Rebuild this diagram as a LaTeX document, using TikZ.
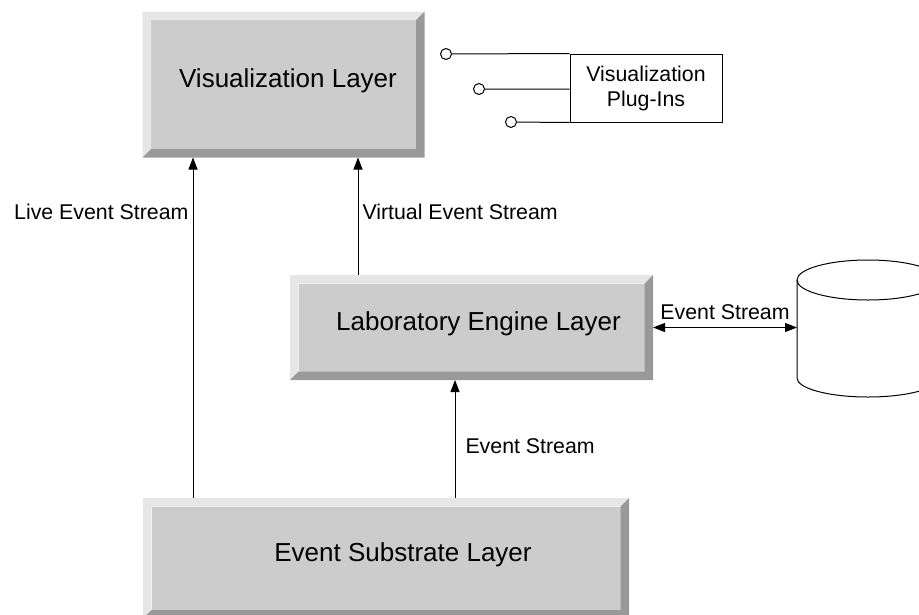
\documentclass[tikz,border=0pt]{standalone}
\usepackage{fontspec}
\setmainfont{Liberation Sans}
\usetikzlibrary{arrows.meta,calc}
\definecolor{facegray}{HTML}{CCCCCC}
\definecolor{litegray}{HTML}{E6E6E6}
\definecolor{shadegray}{HTML}{999999}
\newcommand{\px}{0.75pt}
\tikzstyle{every node}=[font=\fontsize{16}{18.75}\selectfont]
\tikzstyle{layer}=[rectangle,fill=facegray,inner sep=0pt,outer sep=8.5*\px]
\tikzstyle{layertext}=[font=\fontsize{19.5}{23}\selectfont,inner sep=0pt,text height=0.72em,text depth=0.21em]
\tikzstyle{flow}=[-{Triangle[length=9pt,width=6.75pt]}]
\tikzstyle{twoway}=[{Triangle[length=9pt,width=6.75pt]}-{Triangle[length=9pt,width=6.75pt]}]
\tikzstyle{streamlabel}=[inner sep=0pt]
\tikzstyle{port}=[circle,draw,fill=white,inner sep=0pt,minimum size=11*\px]
% bevel ring round a layer node (light top/left, dark bottom/right)
\newcommand{\bevel}[1]{%
  \fill[litegray] (#1.south west) -- (#1.north west) -- (#1.north east)
    -- ($(#1.north east)+(-8.5,8.5)$) -- ($(#1.north west)+(8.5,8.5)$)
    -- ($(#1.south west)+(8.5,-8.5)$) -- cycle;
  \fill[shadegray] (#1.south west) -- (#1.south east) -- (#1.north east)
    -- ($(#1.north east)+(-8.5,8.5)$) -- ($(#1.south east)+(-8.5,-8.5)$)
    -- ($(#1.south west)+(8.5,-8.5)$) -- cycle;}

\begin{document}
\begin{tikzpicture}[x=0.75pt,y=-0.75pt,line width=0.75pt]
    \useasboundingbox (0,0) rectangle (919,614);
    \clip (0,0) rectangle (919,614);

    % Layers
    \node[layer,minimum width=265*\px,minimum height=129*\px] (vis) at (283.5,84.5) {};
    \node[layer,minimum width=346*\px,minimum height=88*\px] (lab) at (471.5,327.5) {};
    \node[layer,minimum width=469*\px,minimum height=103.5*\px] (sub) at (386,558.25) {};
    \bevel{vis}
    \bevel{lab}
    \bevel{sub}
    \node[layertext] (vistext) at ($(vis.center)+(4.5,0)$) {Visualization Layer};
    \node[layertext] (labtext) at ($(lab.center)+(7,0)$) {Laboratory Engine Layer};
    \node[layertext] (subtext) at ($(sub.center)+(17,0)$) {Event Substrate Layer};

    % Plug-ins
    \node[draw,minimum width=152*\px,minimum height=68*\px,align=center] (plugins) at (646,88)
        {Visualization\\Plug-Ins};
    \foreach \name/\cx/\cy in {c1/446/54,c2/479/89,c3/511/122}
        \node[port] (\name) at (\cx,\cy) {};
    \draw (c1) -- (plugins.north west)
        (c2) -- (c2 -| plugins.west)
        (c3) -- (plugins.south west);

    % Database
    \draw (797,280) -- (797,378) arc[start angle=180,end angle=0,x radius=71,y radius=19]
        -- (939,280);
    \draw (868,280) ellipse [x radius=71,y radius=20];
    \coordinate (dbin) at (797,327.5);

    % Event streams
    \coordinate (live) at (193,0);
    \coordinate (virt) at (358,0);
    \coordinate (feed) at (455,0);
    \draw[flow] (sub.north -| live) -- (vis.south -| live);
    \draw[flow] (lab.north -| virt) -- (vis.south -| virt);
    \draw[flow] (sub.north -| feed) -- (lab.south -| feed);
    \draw[twoway] (lab.east) -- node[streamlabel,above=5.6pt] (dblabel) {Event Stream} (dbin);
    \node[streamlabel,left=3pt] (livelabel) at (193,212) {Live Event Stream};
    \node[streamlabel,right=3pt] (virtlabel) at (358,212) {Virtual Event Stream};
    \node[streamlabel,right=7.5pt] (feedlabel) at (455,446) {Event Stream};

\end{tikzpicture}
\end{document}
